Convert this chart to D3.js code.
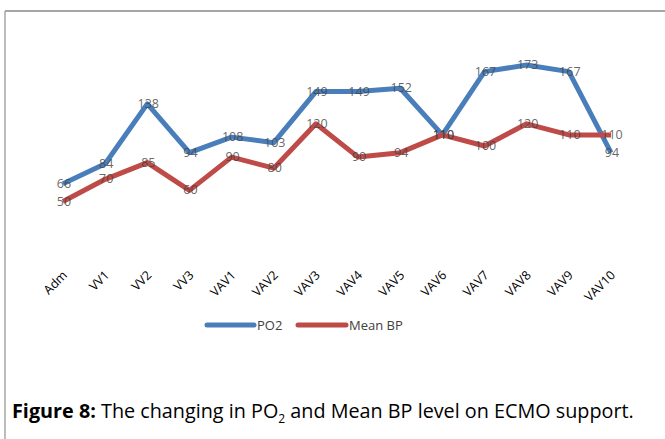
<html>

<head>
	<title>PO2 and Mean BP</title>
	<script src="https://d3js.org/d3.v7.min.js"></script>
	<style>
		body {
			margin: 0;
			background: #fff;
		}
	</style>
</head>

<body>
	<div id="chart"></div>
	<script>
		let stages = ["Adm", "VV1", "VV2", "VV3", "VAV1", "VAV2", "VAV3", "VAV4", "VAV5", "VAV6", "VAV7", "VAV8", "VAV9", "VAV10"];
		let po2 = [66, 84, 138, 94, 108, 103, 149, 149, 152, 110, 167, 173, 167, 94];
		let meanBP = [50, 70, 85, 60, 90, 80, 120, 90, 94, 110, 100, 120, 110, 110];
		let seriesNames = ["PO2", "Mean BP"];
		let colors = ["#4a7ebb", "#be4b48"];

		let svg = d3.select("#chart").append("svg")
			.attr("width", 665)
			.attr("height", 439);

		// frame lines (top + left)
		svg.append("line").attr("x1", 5).attr("x2", 665).attr("y1", 11).attr("y2", 11)
			.attr("stroke", "#a6a6a6").attr("stroke-width", 2);
		svg.append("line").attr("x1", 5).attr("x2", 5).attr("y1", 11).attr("y2", 439)
			.attr("stroke", "#a6a6a6").attr("stroke-width", 1.5);

		let x = d3.scalePoint().domain(stages).range([63, 611]);
		let y = d3.scaleLinear().domain([0, 200]).range([257, 35]);

		let line = d3.line()
			.x(function (d, i) { return x(stages[i]); })
			.y(function (d) { return y(d); });

		[po2, meanBP].forEach(function (s, k) {
			svg.append("path")
				.datum(s)
				.attr("d", line)
				.attr("fill", "none")
				.attr("stroke", colors[k])
				.attr("stroke-width", 5)
				.attr("stroke-linejoin", "round");
		});

		[po2, meanBP].forEach(function (s, k) {
			svg.selectAll(".lbl" + k).data(s).enter().append("text")
				.attr("x", function (d, i) { return x(stages[i]) + 1; })
				.attr("y", function (d) { return y(d) + 4; })
				.attr("text-anchor", "middle")
				.attr("font-family", "'Open Sans', sans-serif")
				.attr("font-size", 12.5)
				.attr("fill", "#404040")
				.attr("fill-opacity", 0.8)
				.text(function (d) { return d; });
		});

		// category labels, rotated
		svg.selectAll(".cat").data(stages).enter().append("text")
			.attr("transform", function (d) { return "translate(" + (x(d) + 5) + ",276) rotate(-45)"; })
			.attr("text-anchor", "end")
			.attr("font-family", "'Open Sans', sans-serif")
			.attr("font-size", 12.5)
			.attr("fill", "#000")
			.text(function (d) { return d; });

		// legend
		let leg = [[207, 254, 257], [298, 346, 349]];
		seriesNames.forEach(function (n, k) {
			svg.append("line")
				.attr("x1", leg[k][0]).attr("x2", leg[k][1])
				.attr("y1", 325).attr("y2", 325)
				.attr("stroke", colors[k]).attr("stroke-width", 5)
				.attr("stroke-linecap", "round");
			svg.append("text")
				.attr("x", leg[k][2]).attr("y", 330)
				.attr("font-family", "'Open Sans', sans-serif")
				.attr("font-size", 13)
				.attr("fill", "#404040")
				.text(n);
		});

		// caption
		let cap = svg.append("text")
			.attr("x", 12).attr("y", 418)
			.attr("font-family", "'Open Sans', sans-serif")
			.attr("font-size", 19.8)
			.attr("fill", "#000");
		cap.append("tspan").attr("font-weight", "bold").text("Figure 8:");
		cap.append("tspan").text(" The changing in PO");
		cap.append("tspan").attr("font-size", 12).attr("dy", 5).text("2");
		cap.append("tspan").attr("dy", -5).text(" and Mean BP level on ECMO support.");
	</script>
</body>

</html>
